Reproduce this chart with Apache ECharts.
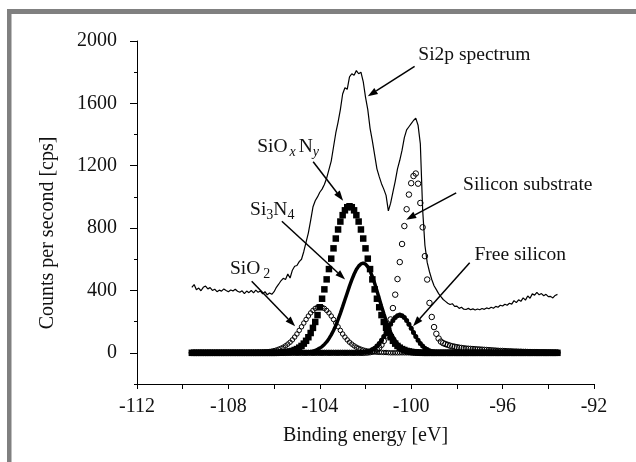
<!DOCTYPE html>
<html><head><meta charset="utf-8">
<script src="https://cdn.jsdelivr.net/npm/echarts@6/dist/echarts.min.js"></script>
<style>html,body{margin:0;padding:0;background:#fff}#c{width:636px;height:462px}</style>
</head><body><div id="c"></div>
<script>
// ---------- data ----------
const energy = [
-109.6,-109.5,-109.4,-109.3,-109.2,-109.1,-109.0,-108.9,-108.8,-108.7,
-108.6,-108.5,-108.4,-108.3,-108.2,-108.1,-108.0,-107.9,-107.8,-107.7,
-107.6,-107.5,-107.4,-107.3,-107.2,-107.1,-107.0,-106.9,-106.8,-106.7,
-106.6,-106.5,-106.4,-106.3,-106.2,-106.1,-106.0,-105.9,-105.8,-105.7,
-105.6,-105.5,-105.4,-105.3,-105.2,-105.1,-105.0,-104.9,-104.8,-104.7,
-104.6,-104.5,-104.4,-104.3,-104.2,-104.1,-104.0,-103.9,-103.8,-103.7,
-103.6,-103.5,-103.4,-103.3,-103.2,-103.1,-103.0,-102.9,-102.8,-102.7,
-102.6,-102.5,-102.4,-102.3,-102.2,-102.1,-102.0,-101.9,-101.8,-101.7,
-101.6,-101.5,-101.4,-101.3,-101.2,-101.1,-101.0,-100.9,-100.8,-100.7,
-100.6,-100.5,-100.4,-100.3,-100.2,-100.1,-100.0,-99.9,-99.8,-99.7,
-99.6,-99.5,-99.4,-99.3,-99.2,-99.1,-99.0,-98.9,-98.8,-98.7,
-98.6,-98.5,-98.4,-98.3,-98.2,-98.1,-98.0,-97.9,-97.8,-97.7,
-97.6,-97.5,-97.4,-97.3,-97.2,-97.1,-97.0,-96.9,-96.8,-96.7,
-96.6,-96.5,-96.4,-96.3,-96.2,-96.1,-96.0,-95.9,-95.8,-95.7,
-95.6,-95.5,-95.4,-95.3,-95.2,-95.1,-95.0,-94.9,-94.8,-94.7,
-94.6,-94.5,-94.4,-94.3,-94.2,-94.1,-94.0,-93.9,-93.8,-93.7,
-93.6];

const si2pSpectrum = [
420,438,405,415,398,420,428,410,418,400,
408,392,402,396,410,400,392,403,397,408,
395,388,398,380,396,386,400,384,402,388,
396,378,392,372,384,375,392,420,440,462,
478,470,505,480,530,555,560,585,600,650,
710,770,850,935,975,1000,1030,1050,1080,1120,
1175,1230,1320,1410,1480,1560,1660,1700,1690,1770,
1790,1780,1810,1790,1800,1740,1640,1560,1440,1360,
1270,1180,1130,1085,1050,1010,910,960,1030,1100,
1180,1235,1300,1380,1430,1450,1470,1490,1505,1460,
1340,920,690,580,520,470,430,405,380,360,
342,330,318,310,315,298,300,285,292,280,
278,285,276,282,275,281,276,284,279,288,
283,292,286,298,292,305,300,312,305,318,
312,335,322,340,330,352,338,365,350,378,
370,388,372,380,366,375,360,362,352,368,
375];

const sio2 = [
0,0,0,0,0,0,0,0,0,0,
0,0,0,0,0,0,0,0,0,0,
0,0,0,0,0,0,1,2,2,3,
3,4,5,6,8,11,14,18,23,29,
36,45,56,68,83,101,121,144,167,191,
214,236,256,272,285,292,295,292,285,272,
256,236,214,191,167,144,121,101,83,68,
56,45,36,29,23,18,14,11,8,6,
5,4,3,3,2,2,1,0,0,0,
0,0,0,0,0,0,0,0,0,0,
0,0,0,0,0,0,0,0,0,0,
0,0,0,0,0,0,0,0,0,0,
0,0,0,0,0,0,0,0,0,0,
0,0,0,0,0,0,0,0,0,0,
0,0,0,0,0,0,0,0,0,0,
0,0,0,0,0,0,0,0,0,0,
0];

const sioxny = [
0,0,0,0,0,0,0,0,0,0,
0,0,0,0,0,0,0,0,0,0,
0,0,0,0,0,0,0,0,0,0,
0,0,0,0,0,0,0,0,1,2,
3,4,6,9,12,18,24,33,44,59,
77,100,127,160,198,242,292,347,407,471,
537,604,670,733,791,842,883,914,934,940,
934,914,883,842,791,733,670,604,537,471,
407,347,292,242,198,160,127,100,77,59,
44,33,24,18,12,9,6,4,3,2,
1,0,0,0,0,0,0,0,0,0,
0,0,0,0,0,0,0,0,0,0,
0,0,0,0,0,0,0,0,0,0,
0,0,0,0,0,0,0,0,0,0,
0,0,0,0,0,0,0,0,0,0,
0,0,0,0,0,0,0,0,0,0,
0];

const si3n4 = [
0,0,0,0,0,0,0,0,0,0,
0,0,0,0,0,0,0,0,0,0,
0,0,0,0,0,0,0,0,0,0,
0,0,0,0,0,0,0,0,0,0,
0,0,0,0,0,0,0,1,1,2,
3,5,7,11,15,22,30,40,54,70,
91,115,143,176,213,253,296,340,384,428,
468,504,534,556,570,575,569,552,525,488,
446,398,349,299,252,207,167,132,103,78,
58,42,30,21,15,10,6,4,3,2,
1,0,0,0,0,0,0,0,0,0,
0,0,0,0,0,0,0,0,0,0,
0,0,0,0,0,0,0,0,0,0,
0,0,0,0,0,0,0,0,0,0,
0,0,0,0,0,0,0,0,0,0,
0,0,0,0,0,0,0,0,0,0,
0];

const freeSilicon = [
0,0,0,0,0,0,0,0,0,0,
0,0,0,0,0,0,0,0,0,0,
0,0,0,0,0,0,0,0,0,0,
0,0,0,0,0,0,0,0,0,0,
0,0,0,0,0,0,0,0,0,0,
0,0,0,0,0,0,0,0,0,0,
0,0,0,0,0,0,0,0,0,0,
0,0,0,1,2,3,5,8,13,21,
30,44,60,81,105,131,158,184,207,226,
238,242,238,226,207,184,158,131,105,81,
60,44,30,21,13,8,5,3,2,1,
0,0,0,0,0,0,0,0,0,0,
0,0,0,0,0,0,0,0,0,0,
0,0,0,0,0,0,0,0,0,0,
0,0,0,0,0,0,0,0,0,0,
0,0,0,0,0,0,0,0,0,0,
0];

const siliconSubstrate = [
0,0,0,0,0,0,0,0,0,0,
0,0,0,0,0,0,0,0,0,0,
0,0,0,0,0,0,0,0,0,0,
0,0,0,0,0,0,0,0,0,0,
0,0,0,0,0,0,0,0,0,0,
0,0,0,0,0,0,0,0,0,0,
0,0,0,0,0,0,0,0,0,0,
0,0,0,0,0,0,1,2,4,8,
13,21,33,51,76,110,156,214,287,373,
473,582,698,813,921,1015,1088,1134,1150,1085,
961,805,620,470,320,230,165,122,92,72,
62,56,51,46,42,39,36,33,31,29,
27,26,25,24,23,22,21,20,19,18,
17,16,15,14,13,12,12,11,10,10,
9,8,8,7,7,6,6,5,5,4,
4,4,3,3,3,2,2,2,1,1,
1];

const yTickLabels = [0, 400, 800, 1200, 1600, 2000];

// ---------- chart ----------
const FONT = '"Liberation Serif","Times New Roman",serif';
const INK = '#111';
const pairs = v => energy.map((e, i) => [e, v[i]]);

const chart = echarts.init(document.getElementById('c'), null, {renderer: 'canvas'});
chart.setOption({
  animation: false,
  grid: {left: 137, right: 42, top: 41, bottom: 78},
  xAxis: {
    type: 'value', min: -112, max: -92, interval: 4,
    name: 'Binding energy [eV]', nameLocation: 'middle', nameGap: 42,
    nameTextStyle: {fontFamily: FONT, fontSize: 20, color: INK},
    axisLine: {onZero: false, lineStyle: {color: '#000', width: 1}},
    axisTick: {length: 5, lineStyle: {color: '#000'}},
    minorTick: {show: true, splitNumber: 2, length: 5, lineStyle: {color: '#000'}},
    splitLine: {show: false}, minorSplitLine: {show: false},
    axisLabel: {fontFamily: FONT, fontSize: 20, color: INK, margin: 13}
  },
  yAxis: [{
    type: 'value', min: -200, max: 2000, interval: 200,
    axisLine: {show: true, onZero: false, lineStyle: {color: '#000', width: 1}},
    axisTick: {show: true, length: 3, lineStyle: {color: '#000'}},
    axisLabel: {fontFamily: FONT, fontSize: 20, color: INK, margin: 20,
      formatter: v => yTickLabels.indexOf(v) >= 0 ? String(v) : ''},
    splitLine: {show: false}
  }, {
    type: 'value', min: -200, max: 2000, position: 'left',
    axisLine: {show: false},
    axisTick: {show: true, length: 7, customValues: yTickLabels, lineStyle: {color: '#000'}},
    axisLabel: {show: false},
    splitLine: {show: false}
  }],
  series: [
    {name: 'SiO2', type: 'scatter', data: pairs(sio2), symbol: 'circle', symbolSize: 4.5,
     itemStyle: {color: 'rgba(255,255,255,0)', borderColor: '#000', borderWidth: 1, opacity: 1}},
    {name: 'Silicon substrate', type: 'scatter', data: pairs(siliconSubstrate), symbol: 'circle', symbolSize: 5.5,
     itemStyle: {color: 'rgba(255,255,255,0)', borderColor: '#000', borderWidth: 1, opacity: 1}},
    {name: 'SiOxNy', type: 'scatter', data: pairs(sioxny), symbol: 'rect', symbolSize: 6.5,
     itemStyle: {color: '#000', opacity: 1}},
    {name: 'Si3N4', type: 'line', data: pairs(si3n4), showSymbol: false,
     lineStyle: {color: '#000', width: 3.5}},
    {name: 'Free silicon', type: 'line', data: pairs(freeSilicon), showSymbol: true, showAllSymbol: true,
     symbol: 'circle', symbolSize: 5, itemStyle: {color: '#000', opacity: 1},
     lineStyle: {color: '#000', width: 3}},
    {name: 'Si2p spectrum', type: 'line', data: pairs(si2pSpectrum), showSymbol: false,
     lineStyle: {color: '#000', width: 1.2}}
  ]
});

// ---------- annotations (anchored in data space) ----------
// fragment: [text, kind, extra gap before in px]
const annotations = [
  {frags: [['Si2p spectrum']], text: [-99.69, 1912], from: [-99.85, 1837], to: [-101.9, 1645]},
  {frags: [['SiO'], ['x', 'subi', 2], ['N', 'norm', 3], ['y', 'subi', 0]], text: [-106.74, 1323], from: [-104.29, 1226], to: [-102.98, 976]},
  {frags: [['Si'], ['3', 'sub'], ['N'], ['4', 'sub']], text: [-107.05, 919], from: [-105.66, 844], to: [-102.89, 470]},
  {frags: [['SiO'], ['2', 'sub', 3]], text: [-107.93, 540], from: [-106.98, 459], to: [-105.08, 171]},
  {frags: [['Silicon substrate']], text: [-97.73, 1079], from: [-98.03, 1026], to: [-100.22, 854]},
  {frags: [['Free silicon']], text: [-97.23, 630], from: [-97.44, 577], to: [-99.92, 171]}
];

const mctx = document.createElement('canvas').getContext('2d');
function fontOf(kind) {
  if (kind === 'subi') return 'italic 14px ' + FONT;
  if (kind === 'sub') return '14px ' + FONT;
  return '19.5px ' + FONT;
}
const toPx = p => chart.convertToPixel({xAxisIndex: 0, yAxisIndex: 0}, p);

const graphics = [
  {type: 'rect', shape: {x: 7, y: 9, width: 629, height: 5}, style: {fill: '#808080'}},
  {type: 'rect', shape: {x: 7, y: 9, width: 4.5, height: 453}, style: {fill: '#808080'}},
  {type: 'text', x: 48, y: 233, rotation: Math.PI / 2,
   style: {text: 'Counts per second [cps]', font: '20px ' + FONT, fill: INK,
           align: 'center', verticalAlign: 'middle', textAlign: 'center', textVerticalAlign: 'middle'}}
];
annotations.forEach(a => {
  const t = toPx(a.text);
  let cx = t[0];
  a.frags.forEach(f => {
    const kind = f[1] || 'norm';
    cx += f[2] || 0;
    const font = fontOf(kind);
    mctx.font = font;
    const dy = kind === 'norm' ? 0 : 6;
    graphics.push({type: 'text', x: cx, y: t[1] + dy, z: 10,
      style: {text: f[0], font: font, fill: INK, align: 'left', verticalAlign: 'middle',
              textAlign: 'left', textVerticalAlign: 'middle'}});
    cx += mctx.measureText(f[0]).width;
  });
  const p1 = toPx(a.from), p2 = toPx(a.to);
  const dx = p2[0] - p1[0], dy = p2[1] - p1[1];
  const L = Math.sqrt(dx * dx + dy * dy), ux = dx / L, uy = dy / L;
  const hl = 10, hw = 3.5;
  const bx = p2[0] - ux * hl, by = p2[1] - uy * hl;
  graphics.push({type: 'line', z: 10, shape: {x1: p1[0], y1: p1[1], x2: bx, y2: by},
    style: {stroke: '#000', lineWidth: 1.5}});
  graphics.push({type: 'polygon', z: 10, shape: {points: [[p2[0], p2[1]],
    [bx - uy * hw, by + ux * hw], [bx + uy * hw, by - ux * hw]]}, style: {fill: '#000'}});
});
chart.setOption({graphic: graphics});
</script>
</body></html>
